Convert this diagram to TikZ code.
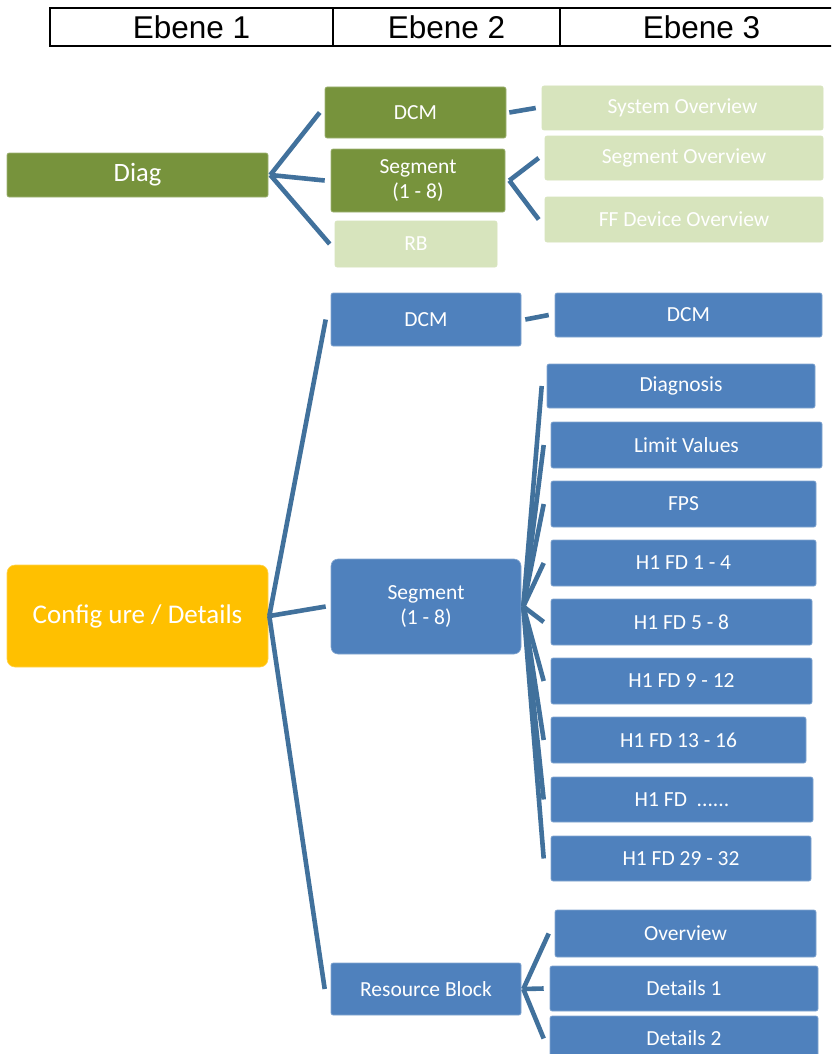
\documentclass[tikz,border=0pt]{standalone}
\usepackage{fontspec}
\setmainfont{Carlito}
\newfontfamily\hdrfont{Liberation Sans}
\definecolor{gfill}{HTML}{77933C}
\definecolor{lgfill}{HTML}{D7E4BD}
\definecolor{bfill}{HTML}{4F81BD}
\definecolor{ofill}{HTML}{FFC000}
\definecolor{connc}{HTML}{41719C}
\newcommand\boxat[7]{\node[#1,minimum width={#5-#4},minimum height={#7-#6}] (#2) at ({(#4+#5)/2},{(#6+#7)/2}) {#3};}
\tikzset{
  base/.style={rectangle, inner sep=0pt, text=white, align=center,
    font=\fontsize{21.5}{25}\selectfont, line width=0.6pt},
  gbox/.style={base, fill=gfill, draw=gfill!70!white, rounded corners=2pt},
  lgbox/.style={base, fill=lgfill, draw=lgfill, rounded corners=2pt},
  bbox/.style={base, fill=bfill, draw=bfill!70!white, rounded corners=2pt},
  bboxr/.style={base, fill=bfill, draw=bfill!70!white, rounded corners=7pt},
  obox/.style={base, fill=ofill, draw=ofill!70!white, rounded corners=8pt,
    font=\fontsize{27}{31}\selectfont},
  bigg/.style={gbox, font=\fontsize{26.5}{31}\selectfont},
  cell/.style={rectangle, draw=black, line width=2pt, inner sep=0pt,
    font=\hdrfont\fontsize{31.5}{34}\selectfont},
  conn/.style={draw=connc, line width=4.6pt}
}
\begin{document}
\begin{tikzpicture}[x=1pt,y=-1pt]
\clip (0,0) rectangle (831,1054);
\fill[white] (0,0) rectangle (831,1054);
% header
\boxat{cell}{e1}{Ebene 1}{50}{333}{8}{46}
\boxat{cell}{e2}{Ebene 2}{333}{560}{8}{46}
\boxat{cell}{e3}{Ebene 3}{560}{843}{8}{46}
% green section
\boxat{bigg}{diag}{Diag}{7}{268}{153}{197}
\boxat{gbox}{dcmg}{DCM}{325}{506}{87}{138}
\boxat{gbox}{segg}{Segment\\(1 - 8)}{331}{505}{149}{212}
\boxat{lgbox}{rb}{RB}{335}{497}{221}{267}
\boxat{lgbox}{sysov}{System Overview}{542}{823}{86}{130}
\boxat{lgbox}{segov}{Segment Overview}{545}{823}{136}{180}
\boxat{lgbox}{ffov}{FF Device Overview}{545}{823}{197}{242}
% blue section
\boxat{obox}{conf}{Config ure / Details}{7}{268}{565}{667}
\boxat{bbox}{dcmb}{DCM}{331}{521}{293}{346}
\boxat{bboxr}{segb}{Segment\\(1 - 8)}{331}{521}{559}{654}
\boxat{bbox}{resb}{Resource Block}{331}{521}{963}{1015}
\boxat{bbox}{dcmc}{DCM}{555}{822}{293}{337}
\boxat{bbox}{diagn}{Diagnosis}{547}{815}{364}{408}
\boxat{bbox}{limv}{Limit Values}{551}{822}{422}{468}
\boxat{bbox}{fps}{FPS}{551}{816}{481}{527}
\boxat{bbox}{fda}{H1 FD 1 - 4}{551}{816}{540}{586}
\boxat{bbox}{fdb}{H1 FD 5 - 8}{551}{812}{599}{645}
\boxat{bbox}{fdc}{H1 FD 9 - 12}{551}{812}{658}{704}
\boxat{bbox}{fdd}{H1 FD 13 - 16}{551}{806}{717}{763}
\boxat{bbox}{fde}{H1 FD\ \ ......}{551}{813}{777}{822}
\boxat{bbox}{fdf}{H1 FD 29 - 32}{551}{811}{836}{881}
\boxat{bbox}{ovw}{Overview}{555}{816}{910}{957}
\boxat{bbox}{det1}{Details 1}{550}{818}{966}{1011}
\boxat{bbox}{det2}{Details 2}{550}{818}{1016}{1061}
% connectors green
\draw[conn] ([xshift=2pt]diag.east) -- ([xshift=-5pt]dcmg.west);
\draw[conn] ([xshift=2pt]diag.east) -- ([xshift=-6pt]segg.west);
\draw[conn] ([xshift=2pt]diag.east) -- ([xshift=-5pt]rb.west);
\draw[conn] ([xshift=3pt]dcmg.east) -- ([xshift=-6pt]sysov.west);
\draw[conn] ([xshift=4pt]segg.east) -- ([xshift=-6pt]segov.west);
\draw[conn] ([xshift=4pt]segg.east) -- ([xshift=-6pt]ffov.west);
% connectors blue
\draw[conn] ([xshift=1pt]conf.east) -- ([xshift=-5pt]dcmb.west);
\draw[conn] ([xshift=1pt]conf.east) -- ([xshift=-5pt]segb.west);
\draw[conn] ([xshift=1pt]conf.east) -- ([xshift=-6pt]resb.west);
\draw[conn] ([xshift=4pt]dcmb.east) -- ([xshift=-6pt]dcmc.west);
\foreach \c in {limv,fps,fda,fdb,fdc,fdd,fde,fdf}
  \draw[conn] ([xshift=2pt]segb.east) -- ([xshift=-7pt]\c.west);
\draw[conn] ([xshift=2pt]segb.east) -- ([xshift=-5pt]diagn.west);
\draw[conn] ([xshift=2pt]resb.east) -- ([xshift=-6pt]ovw.west);
\draw[conn] ([xshift=2pt]resb.east) -- ([xshift=-6pt]det1.west);
\draw[conn] ([xshift=2pt]resb.east) -- ([xshift=-6pt]det2.west);
\end{tikzpicture}
\end{document}
